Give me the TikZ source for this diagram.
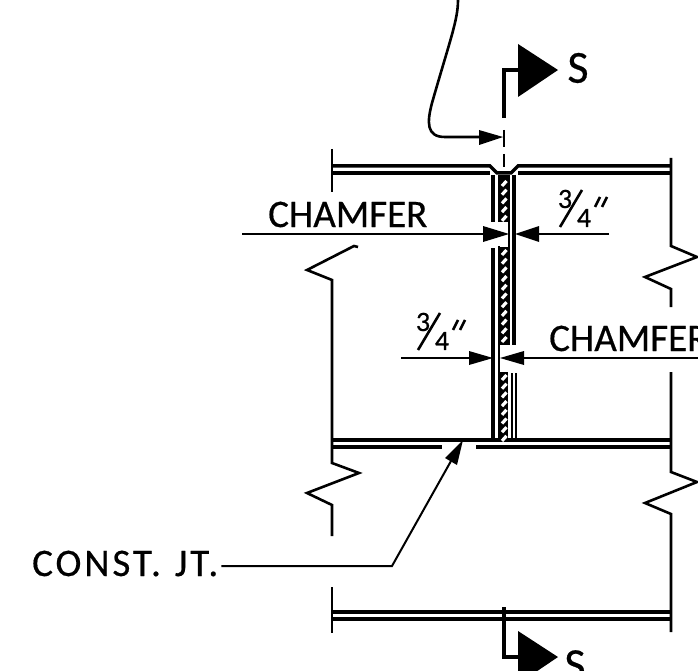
\documentclass[tikz,border=0pt]{standalone}
\usepackage{fontspec}
\setmainfont{Carlito}[AutoFakeBold=0.5]
\newfontfamily\widefont{Carlito}[LetterSpace=7.5,WordSpace=1.2,AutoFakeBold=0.5]
\tikzset{
  heavy/.style={line width=3.5pt},
  medium/.style={line width=2.6pt},
  thinline/.style={line width=2pt},
  label/.style={font=\bfseries\fontsize{39}{39}\selectfont,inner sep=0pt},
  widelabel/.style={font=\widefont\bfseries\fontsize{39}{39}\selectfont,inner sep=0pt},
  bigletter/.style={font=\bfseries\fontsize{46}{46}\selectfont,inner sep=0pt},
  digit/.style={font=\bfseries\fontsize{28}{28}\selectfont,inner sep=0pt}
}
\begin{document}
\begin{tikzpicture}[x=1pt,y=-1pt]
        \useasboundingbox (0,0) rectangle (698,671);
        \clip (0,0) rectangle (698,671);
        % upper slab
        \draw[heavy] (332,166) -- (490,166) -- (497,173) -- (511,173) -- (518,166) -- (671,166);
        \draw[heavy] (332,173) -- (490,173);
        \draw[heavy] (518,173) -- (671,173);
        % lower slabs
        \draw[heavy] (332,440) -- (671,440);
        \draw[heavy] (332,447) -- (442,447);
        \draw[heavy] (476,447) -- (671,447);
        \draw[heavy] (332,612) -- (671,612);
        \draw[heavy] (332,619) -- (671,619);
        % left side
        \draw[medium] (332,149) -- (332,192);
        \draw[medium] (358,247) -- (354,246) -- (307,270) -- (332,280) -- (332,463) -- (359,473) -- (307,493) -- (332,505) -- (332,536);
        \draw[medium] (332,587) -- (332,633);
        % right side
        \draw[medium] (671,158) -- (671,246) -- (697,257) -- (645,277) -- (671,289) -- (671,307);
        \draw[medium] (671,372) -- (671,472) -- (697,482) -- (645,503) -- (671,514) -- (671,632);
        % joint hatching
        \fill (500,175) rectangle (508,222);
        \fill (500,247) rectangle (508,345);
        \fill (500,372) rectangle (508,440);
        \foreach \y in {183,191.7,...,222,252,260.7,...,342,377,385.7,...,438}
            \draw[white,line width=3.2pt] (502,\y+3) -- (506.5,\y-2);
        % joint faces
        \draw[heavy] (493,175) -- (493,222);
        \draw[medium] (499,175) -- (499,222);
        \draw[heavy] (493,248) -- (493,440);
        \draw[medium] (499,246) -- (499,440);
        \draw[medium] (509,175) -- (509,345);
        \draw[heavy] (514,175) -- (514,345);
        \draw[medium] (512,373) -- (512,440);
        \draw[medium] (516,373) -- (516,440);
        % section marks
        \draw[heavy] (504,118) -- (504,70) -- (520,70);
        \fill (518,44) -- (558,70) -- (518,97) -- cycle;
        \draw[medium] (504,130) -- (504,147);
        \draw[medium] (504,154) -- (504,167);
        \draw[heavy] (504,607) -- (504,657) -- (522,657);
        \fill (518,631) -- (558,657) -- (518,684) -- cycle;
        % leader from above
        \draw[medium] (458,0) .. controls (458,20) and (450,40) .. (432,103) .. controls (427,122) and (426,137) .. (445,137) -- (482,137);
        \fill (479,130) -- (503,137) -- (479,145) -- cycle;
        % labels
        \node[label,anchor=base west] (chamfera) at (268,227) {CHAMFER};
        \node[label,anchor=base west] (chamferb) at (549,351) {CHAMFER};
        \node[widelabel,anchor=base west] (constjt) at (32,576) {CONST. JT.};
        \node[bigletter] (sa) at (578,68) {S};
        \node[bigletter,anchor=north] (sb) at (575,650) {S};
        % dimensions
        \foreach \fx/\fy/\nm in {582/190/upper,440/313/lower} {
            \node[digit] (three\nm) at (\fx-17,\fy+9) {3};
            \node[digit] (four\nm) at (\fx+2,\fy+28) {4};
            \draw[medium] (\fx,\fy) -- (\fx-22,\fy+37);
            \draw[medium] (\fx+18,\fy+7) -- (\fx+13,\fy+17);
            \draw[medium] (\fx+25,\fy+7) -- (\fx+20,\fy+17);
        }
        \draw[medium] (242,234) -- (485,234);
        \fill (483,226) -- (509,234) -- (483,242) -- cycle;
        \draw[medium] (609,234) -- (537,234);
        \fill (539,226) -- (515,234) -- (539,242) -- cycle;
        \draw[medium] (401,358) -- (470,358);
        \fill (469,351) -- (493,358) -- (469,365) -- cycle;
        \draw[medium] (698,358) -- (523,358);
        \fill (524,351) -- (500,358) -- (524,365) -- cycle;
        % construction joint leader
        \coordinate (bend) at (392,566);
        \coordinate (jointtip) at (463,440);
        \draw[thinline] ([xshift=3pt]constjt.east |- bend) -- (bend) -- (451,461);
        \fill (jointtip) -- (457,465) -- (445,458) -- cycle;
\end{tikzpicture}
\end{document}
